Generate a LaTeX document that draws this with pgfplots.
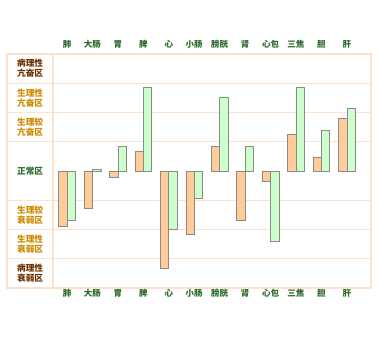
\documentclass[border=0pt]{standalone}
\usepackage{pgfplots}
\pgfplotsset{compat=1.18}
\usepackage{fontspec}
\setmainfont{Noto Sans CJK SC}
\definecolor{gridc}{HTML}{FFE0C8}
\definecolor{orf}{HTML}{FFCC99}
\definecolor{grf}{HTML}{CCFFCC}
\definecolor{edgec}{HTML}{8A8A8A}
\definecolor{bing}{HTML}{6B3000}
\definecolor{sheng}{HTML}{CC8A00}
\definecolor{zheng}{HTML}{2F6B2F}
\definecolor{catc}{HTML}{2E6B2E}
\pgfplotstableread{
x a b
0 -1.88 -1.67
1 -1.26 0.05
2 -0.20 0.85
3 0.68 2.87
4 -3.34 -2.00
5 -2.18 -0.92
6 0.85 2.53
7 -1.67 0.85
8 -0.34 -2.39
9 1.26 2.87
10 0.48 1.40
11 1.81 2.15
}\datatab
\begin{document}
\begin{tikzpicture}
\path[use as bounding box] (0,0) rectangle (380pt,345pt);
\begin{axis}[
  at={(7pt,57pt)}, anchor=south west,
  scale only axis, width=364pt, height=234pt,
  xmin=-2.36, xmax=11.95, ymin=-4, ymax=4,
  ybar=0pt, bar width=0.33,
  axis line style={gridc, line width=1.1pt},
  ytick={-3,-2,-1,1,2,3}, yticklabels={},
  ymajorgrids, major grid style={gridc, line width=1.1pt},
  major tick length=0pt,
  xtick={0,...,11},
  xticklabels={肺,大肠,胃,脾,心,小肠,膀胱,肾,心包,三焦,胆,肝},
  xticklabel style={font=\fontsize{8.5}{9}\selectfont\bfseries, text=catc, yshift=2pt},
  extra x ticks={-0.55}, extra x tick labels={},
  extra x tick style={xmajorgrids, major grid style={gridc, line width=1.1pt}},
  clip=false,
]
\addplot[fill=orf, draw=edgec, line width=0.6pt] table[x=x,y=a]{\datatab};
\addplot[fill=grf, draw=edgec, line width=0.6pt] table[x=x,y=b]{\datatab};
\foreach \i/\t in {0/肺,1/大肠,2/胃,3/脾,4/心,5/小肠,6/膀胱,7/肾,8/心包,9/三焦,10/胆,11/肝}{
  \edef\tmp{\noexpand\node[font=\noexpand\fontsize{8.5}{9}\noexpand\selectfont\noexpand\bfseries, text=catc, anchor=base] at (axis cs:\i,4) [yshift=6pt] {\t};}
  \tmp
}
\begin{scope}[every node/.style={font=\fontsize{8.7}{10}\selectfont\bfseries, align=center}]
\node[text=bing] at (axis cs:-1.45,3.5) {病理性\\亢奋区};
\node[text=sheng] at (axis cs:-1.45,2.5) {生理性\\亢奋区};
\node[text=sheng] at (axis cs:-1.45,1.5) {生理较\\亢奋区};
\node[text=zheng] at (axis cs:-1.45,0) {正常区};
\node[text=sheng] at (axis cs:-1.45,-1.5) {生理较\\衰弱区};
\node[text=sheng] at (axis cs:-1.45,-2.5) {生理性\\衰弱区};
\node[text=bing] at (axis cs:-1.45,-3.5) {病理性\\衰弱区};
\end{scope}
\end{axis}
\end{tikzpicture}
\end{document}
